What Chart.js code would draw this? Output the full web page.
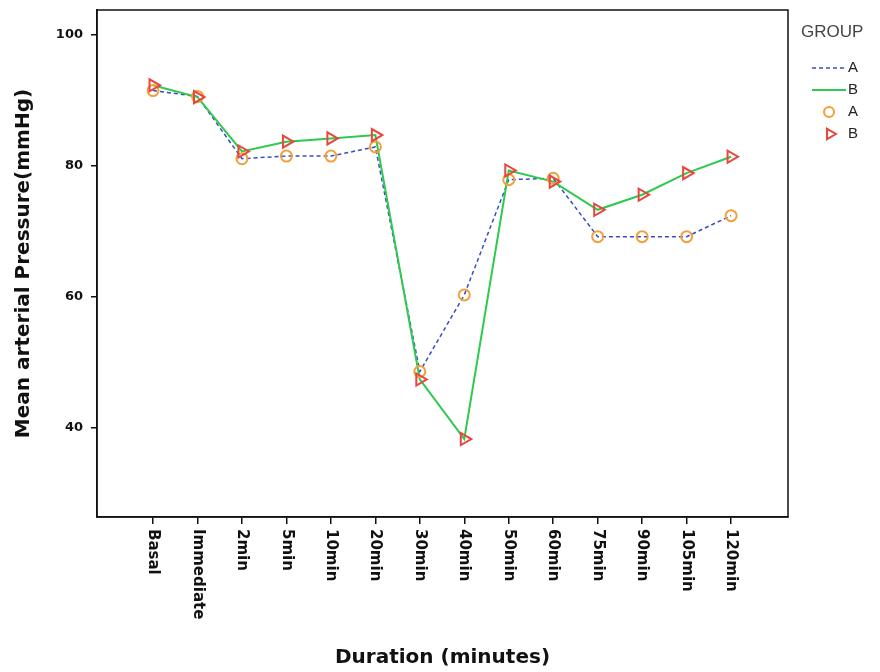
<!DOCTYPE html>
<html>
<head>
<meta charset="utf-8">
<script src="https://cdn.jsdelivr.net/npm/chart.js@4.4.1/dist/chart.umd.min.js"></script>
<style>
    html, body { margin: 0; padding: 0; background: #fff; }
    #wrap { width: 880px; height: 672px; }
</style>
</head>
<body>
<div id="wrap"><canvas id="presionChart" width="880" height="672"></canvas></div>
<script>
// Datos
const duraciones = ['Basal', 'Immediate', '2min', '5min', '10min', '20min', '30min',
    '40min', '50min', '60min', '75min', '90min', '105min', '120min'];
const grupoA = [91.5, 90.6, 81.1, 81.5, 81.5, 82.9, 48.6, 60.3, 77.9, 78.1, 69.2, 69.2, 69.2, 72.4];
const grupoB = [92.3, 90.5, 82.2, 83.7, 84.2, 84.7, 47.4, 38.3, 79.3, 77.6, 73.3, 75.6, 78.9, 81.4];
const ticksY = [40, 60, 80, 100];

const colorA = '#3a4cc4';
const colorB = '#2ec94e';
const marcaA = '#f2a03c';
const marcaB = '#e8473f';

const puntos = arr => arr.map((v, i) => ({ x: i, y: v }));

// Marco, etiquetas verticales del eje X y leyenda "GROUP"
const extras = {
    id: 'extras',
    afterDraw(chart) {
        const { ctx, chartArea, scales } = chart;
        ctx.save();
        ctx.strokeStyle = '#111';
        ctx.lineWidth = 1.5;
        ctx.strokeRect(chartArea.left, chartArea.top, chartArea.right - chartArea.left, chartArea.bottom - chartArea.top);

        ctx.font = 'bold 15px "DejaVu Sans"';
        ctx.fillStyle = '#111';
        ctx.textAlign = 'left';
        ctx.textBaseline = 'middle';
        duraciones.forEach((d, i) => {
            const x = scales.x.getPixelForValue(i);
            ctx.save();
            ctx.translate(x, chartArea.bottom + 12);
            ctx.rotate(Math.PI / 2);
            ctx.fillText(d, 0, 0);
            ctx.restore();
        });

        // leyenda
        ctx.fillStyle = '#444';
        ctx.font = '17px "Liberation Sans"';
        ctx.fillText('GROUP', 801, 32);
        ctx.font = '15px "Liberation Sans"';
        ctx.fillStyle = '#222';
        const filas = [68, 90, 112, 134];
        ['A', 'B', 'A', 'B'].forEach((t, i) => ctx.fillText(t, 848, filas[i]));

        ctx.lineWidth = 1.5;
        ctx.strokeStyle = colorA;
        ctx.setLineDash([4, 3]);
        ctx.beginPath(); ctx.moveTo(812, filas[0]); ctx.lineTo(846, filas[0]); ctx.stroke();
        ctx.setLineDash([]);
        ctx.strokeStyle = colorB;
        ctx.lineWidth = 2;
        ctx.beginPath(); ctx.moveTo(812, filas[1]); ctx.lineTo(846, filas[1]); ctx.stroke();

        ctx.fillStyle = 'rgba(0,0,0,0)';
        ctx.strokeStyle = marcaA;
        Chart.helpers.drawPoint(ctx, { pointStyle: 'circle', radius: 5, borderWidth: 2, rotation: 0 }, 829, filas[2]);
        ctx.strokeStyle = marcaB;
        Chart.helpers.drawPoint(ctx, { pointStyle: 'triangle', radius: 6, borderWidth: 2, rotation: 90 }, 830, filas[3]);
        ctx.restore();
    }
};

new Chart(document.getElementById('presionChart'), {
    type: 'line',
    data: {
        datasets: [{
            label: 'A',
            data: puntos(grupoA),
            borderColor: colorA,
            borderWidth: 1.5,
            borderDash: [4, 3],
            pointRadius: 0,
            fill: false,
            order: 3
        }, {
            label: 'B',
            data: puntos(grupoB),
            borderColor: colorB,
            borderWidth: 2,
            pointRadius: 0,
            fill: false,
            order: 2
        }, {
            label: 'A',
            data: puntos(grupoA),
            showLine: false,
            pointStyle: 'circle',
            pointRadius: 5.5,
            pointBorderWidth: 2,
            pointBorderColor: marcaA,
            pointBackgroundColor: 'rgba(0,0,0,0)',
            order: 1
        }, {
            label: 'B',
            data: puntos(grupoB),
            showLine: false,
            pointStyle: 'triangle',
            pointRotation: 90,
            pointRadius: 7,
            pointBorderWidth: 2,
            pointBorderColor: marcaB,
            pointBackgroundColor: 'rgba(0,0,0,0)',
            order: 0
        }]
    },
    options: {
        responsive: false,
        animation: false,
        clip: false,
        layout: { padding: { top: 10, right: 92, left: 0, bottom: 0 } },
        plugins: {
            legend: { display: false },
            tooltip: { enabled: false }
        },
        scales: {
            x: {
                type: 'linear',
                min: -1.26,
                max: 14.28,
                afterBuildTicks: scale => { scale.ticks = duraciones.map((d, i) => ({ value: i })); },
                afterFit: scale => { scale.height = 155; scale.paddingLeft = 0; scale.paddingRight = 0; },
                ticks: { display: false },
                grid: { drawOnChartArea: false, color: '#111', lineWidth: 1.5, tickLength: 7 },
                border: { display: true, color: '#111', width: 1.5 },
                title: {
                    display: true,
                    text: 'Duration (minutes)',
                    color: '#111',
                    font: { family: '"DejaVu Sans"', size: 20, weight: 'bold' },
                    padding: { top: 0, bottom: 2 }
                }
            },
            y: {
                min: 26.4,
                max: 103.8,
                afterBuildTicks: scale => { scale.ticks = ticksY.map(v => ({ value: v })); },
                afterFit: scale => { scale.width = 97; scale.paddingTop = 0; scale.paddingBottom = 0; },
                ticks: {
                    color: '#111',
                    padding: 8,
                    font: { family: '"DejaVu Sans"', size: 13, weight: 'bold' }
                },
                grid: { drawOnChartArea: false, color: '#111', lineWidth: 1.5, tickLength: 6 },
                border: { display: true, color: '#111', width: 1.5 },
                title: {
                    display: true,
                    text: 'Mean arterial Pressure(mmHg)',
                    color: '#111',
                    font: { family: '"DejaVu Sans"', size: 20, weight: 'bold' },
                    padding: { top: 12, bottom: 0 }
                }
            }
        }
    },
    plugins: [extras]
});
</script>
</body>
</html>
